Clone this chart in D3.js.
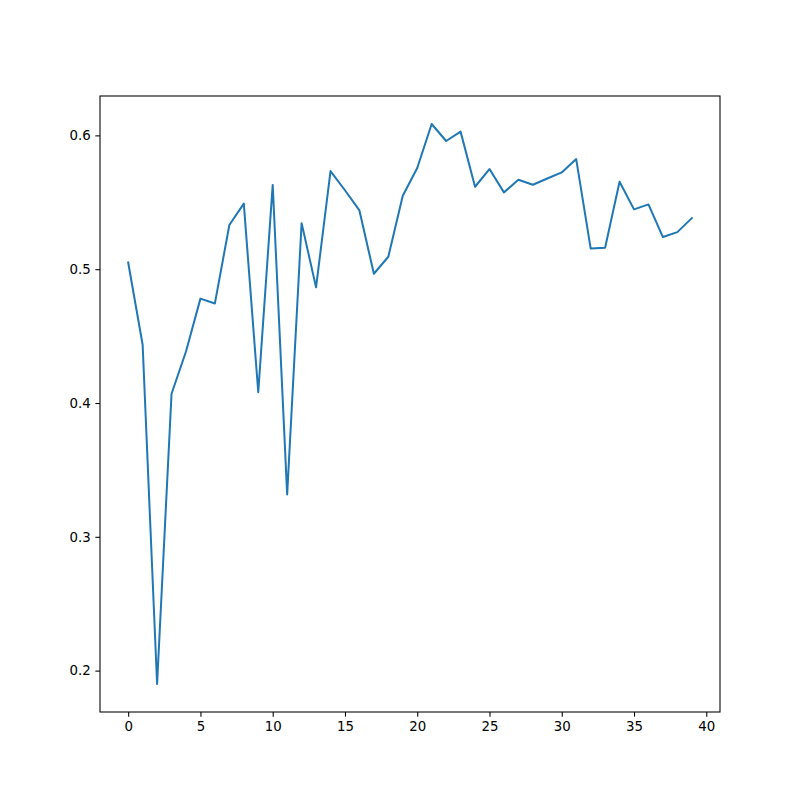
<!DOCTYPE html>
<html><head><meta charset="utf-8">
<script src="https://cdn.jsdelivr.net/npm/d3@7"></script>
<style>body{margin:0;background:#fff}svg text{font-family:"DejaVu Sans",sans-serif;font-size:13.33px;fill:#000}</style>
</head><body>
<svg id="c" width="800" height="800"></svg>
<script>
const xValues = d3.range(40);
const yValues = [0.505,0.4435,0.19,0.4069,0.4385,0.478,0.4744,0.533,0.549,0.408,
0.563,0.3316,0.5344,0.4864,0.5733,0.559,0.5439,0.4966,0.5093,0.5549,
0.5756,0.6085,0.5958,0.6028,0.5616,0.5748,0.5574,0.5668,0.5631,0.5678,
0.5723,0.5823,0.5155,0.516,0.5654,0.5447,0.5484,0.524,0.5277,0.5382];
const xTicks = [0,5,10,15,20,25,30,35,40];
const yTicks = [0.2,0.3,0.4,0.5,0.6];

const L=100,R=720,T=96,B=712;
const svg=d3.select("#c");
const xmin=d3.min(xValues), xmax=d3.max(xValues), xm=(xmax-xmin)*0.05;
const ymin=d3.min(yValues), ymax=d3.max(yValues), ym=(ymax-ymin)*0.05;
const x=d3.scaleLinear().domain([xmin-xm,xmax+xm]).range([L,R]);
const y=d3.scaleLinear().domain([ymin-ym,ymax+ym]).range([B,T]);

svg.append("path").datum(yValues)
  .attr("d",d3.line().x((d,i)=>x(xValues[i])).y(d=>y(d)))
  .attr("fill","none").attr("stroke","#1f77b4").attr("stroke-width",2)
  .attr("stroke-linejoin","round").attr("stroke-linecap","square");

const xa=svg.append("g").attr("transform",`translate(0,${B})`)
  .call(d3.axisBottom(x).tickValues(xTicks).tickSize(4.67).tickPadding(4.67).tickFormat(d3.format("d")));
const ya=svg.append("g").attr("transform",`translate(${L},0)`)
  .call(d3.axisLeft(y).tickValues(yTicks).tickSize(4.67).tickPadding(4.67).tickFormat(d3.format(".1f")));
[xa,ya].forEach(a=>{a.select(".domain").remove();a.selectAll("line").attr("stroke","#000").attr("stroke-width",1.07);
  a.selectAll("text").attr("font-family","DejaVu Sans").attr("font-size","13.33px");});

svg.append("rect").attr("x",L).attr("y",T).attr("width",R-L).attr("height",B-T)
  .attr("fill","none").attr("stroke","#000").attr("stroke-width",1.07);
</script>
</body></html>
